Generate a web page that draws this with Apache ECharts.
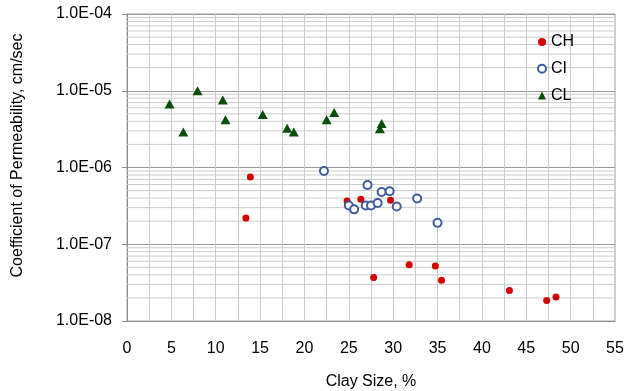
<!DOCTYPE html>
<html>
<head>
<meta charset="utf-8">
<script src="https://cdn.jsdelivr.net/npm/echarts@6/dist/echarts.min.js"></script>
<style>
html,body{margin:0;padding:0;background:#fff;}
#chart{width:626px;height:391px;}
</style>
</head>
<body>
<div id="chart"></div>
<script>
// ---- Data (Clay Size %, Coefficient of Permeability cm/sec) ----
const seriesNames = ['CH', 'CI', 'CL'];

const chX = [13.4, 13.9, 24.8, 26.35, 27.8, 29.7, 31.8, 34.75, 35.45, 43.1, 47.3, 48.35];
const chY = [2.2e-7, 7.5e-7, 3.65e-7, 3.85e-7, 3.7e-8, 3.75e-7, 5.4e-8, 5.2e-8, 3.4e-8, 2.5e-8, 1.85e-8, 2.05e-8];

const ciX = [22.2, 25.0, 25.6, 26.9, 27.1, 27.5, 28.25, 28.7, 29.6, 30.4, 32.7, 35.0];
const ciY = [9.0e-7, 3.2e-7, 2.85e-7, 3.2e-7, 5.9e-7, 3.2e-7, 3.45e-7, 4.8e-7, 4.9e-7, 3.1e-7, 3.95e-7, 1.9e-7];

const clX = [4.8, 6.35, 7.95, 10.8, 11.1, 15.3, 18.05, 18.8, 22.5, 23.35, 28.7, 28.5];
const clY = [6.7e-6, 2.9e-6, 1.0e-5, 7.6e-6, 4.2e-6, 4.9e-6, 3.25e-6, 2.9e-6, 4.2e-6, 5.2e-6, 3.75e-6, 3.2e-6];

const xTickLabels = ['0','5','10','15','20','25','30','35','40','45','50','55'];
const yTickLabels = ['1.0E-08','1.0E-07','1.0E-06','1.0E-05','1.0E-04'];
const yDecades = [-8, -7, -6, -5, -4];
const xRange = [0, 55];

// minor log gridlines (2..9 within each decade)
const minorMultipliers = [2,3,4,5,6,7,8,9];
const minorGrid = [];
yDecades.slice(0, -1).forEach(d => minorMultipliers.forEach(m => minorGrid.push(m * Math.pow(10, d))));

const zip = (xs, ys) => xs.map((x, i) => [x, ys[i]]);

const FONT = "'Liberation Sans', Arial, sans-serif";
const chart = echarts.init(document.getElementById('chart'), null, {renderer: 'canvas'});

const gridSeries = minorGrid.map(v => ({
  name: '_g' + v,
  type: 'line',
  data: [[xRange[0], v], [xRange[1], v]],
  symbol: 'none',
  silent: true,
  z: 1,
  lineStyle: {color: '#cccccc', width: 1},
  emphasis: {disabled: true},
  tooltip: {show: false}
}));

chart.setOption({
  animation: false,
  backgroundColor: '#fff',
  textStyle: {fontFamily: FONT},
  grid: {left: 127, right: 11, top: 14, bottom: 70, containLabel: false, outerBoundsMode: 'none',
         show: true, borderColor: '#a6a6a6', borderWidth: 1, backgroundColor: '#fff'},
  legend: {
    data: seriesNames,
    orient: 'vertical',
    left: 532,
    top: 29,
    itemWidth: 8,
    itemHeight: 8,
    itemGap: 10.7,
    textStyle: {fontFamily: FONT, fontSize: 16, color: '#000'}
  },
  xAxis: {
    type: 'value',
    min: xRange[0], max: xRange[1], interval: 5,
    name: 'Clay Size, %',
    nameLocation: 'middle',
    nameGap: 53,
    nameTextStyle: {fontFamily: FONT, fontSize: 16, color: '#000'},
    axisLine: {show: true, lineStyle: {color: '#8c8c8c'}},
    axisTick: {show: false},
    axisLabel: {margin: 20, fontSize: 16, color: '#000', fontFamily: FONT,
      formatter: (v) => { const i = Math.round(v / 5); return xTickLabels[i] !== undefined ? xTickLabels[i] : ''; }},
    splitLine: {show: true, lineStyle: {color: '#cccccc', width: 1}},
    minorTick: {show: false, splitNumber: 2},
    minorSplitLine: {show: true, lineStyle: {color: '#cccccc', width: 1}}
  },
  yAxis: {
    type: 'log',
    logBase: 10,
    min: 1e-8, max: 1e-4,
    name: 'Coefficient of Permeability, cm/sec',
    nameLocation: 'middle',
    nameGap: 101,
    nameTextStyle: {fontFamily: FONT, fontSize: 16, color: '#000', padding: [0, 0, 0, 24]},
    axisLine: {show: true, lineStyle: {color: '#8c8c8c'}},
    axisTick: {show: true, inside: false, length: 5, lineStyle: {color: '#8c8c8c'}},
    axisLabel: {margin: 15, fontSize: 16, color: '#000', fontFamily: FONT,
      formatter: (v) => { const e = Math.round(Math.log10(v)); const i = yDecades.indexOf(e); return i >= 0 ? yTickLabels[i] : ''; }},
    splitLine: {show: true, lineStyle: {color: '#9a9a9a', width: 1}}
  },
  series: gridSeries.concat([
    {
      name: 'CH', type: 'scatter', z: 5,
      symbol: 'circle', symbolSize: 7,
      itemStyle: {color: '#d40000', opacity: 1},
      data: zip(chX, chY)
    },
    {
      name: 'CI', type: 'scatter', z: 5,
      symbol: 'emptyCircle', symbolSize: 8,
      itemStyle: {color: '#3f5c9c', borderColor: '#3f5c9c', borderWidth: 1.3, opacity: 1},
      data: zip(ciX, ciY)
    },
    {
      name: 'CL', type: 'scatter', z: 5,
      symbol: 'triangle', symbolSize: [10, 9],
      itemStyle: {color: '#0b4d0b', opacity: 1},
      data: zip(clX, clY)
    }
  ])
});
</script>
</body>
</html>
